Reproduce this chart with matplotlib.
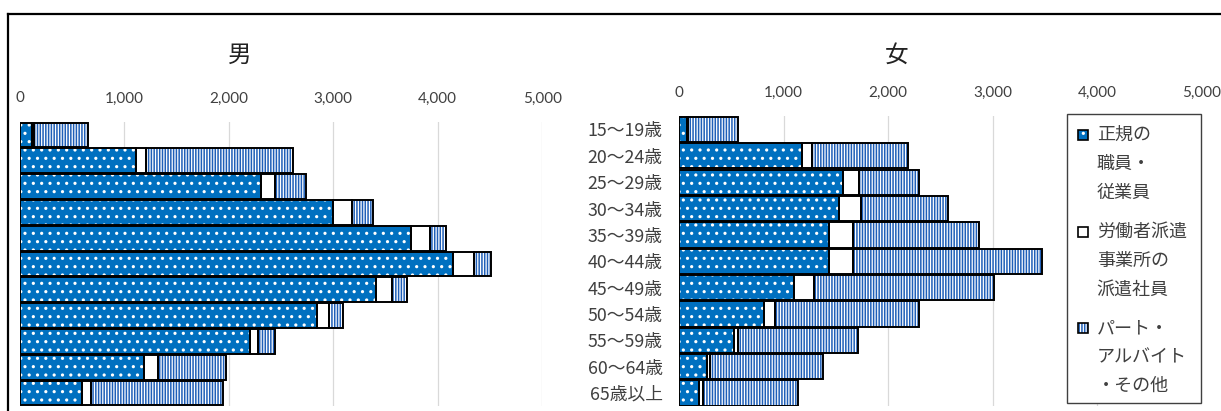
import matplotlib
matplotlib.use("Agg")
import matplotlib.pyplot as plt
from matplotlib.patches import Rectangle
from matplotlib.lines import Line2D
import numpy as np

plt.rcParams['font.family'] = ['Noto Sans CJK JP', 'DejaVu Sans']
plt.rcParams['hatch.linewidth'] = 1.1

# ---- data (thousand persons) ----
age_groups = ["15～19歳", "20～24歳", "25～29歳", "30～34歳", "35～39歳", "40～44歳",
              "45～49歳", "50～54歳", "55～59歳", "60～64歳", "65歳以上"]
series_names = ["正規の\n職員・\n従業員", "労働者派遣\n事業所の\n派遣社員", "パート・\nアルバイト\n・その他"]

male_regular = [120, 1114, 2307, 3002, 3742, 4144, 3407, 2843, 2202, 1190, 600]
male_dispatch = [15, 93, 137, 182, 185, 198, 153, 115, 82, 134, 86]
male_part = [517, 1413, 294, 198, 151, 166, 147, 140, 157, 651, 1263]

female_regular = [70, 1171, 1564, 1531, 1436, 1436, 1101, 808, 521, 262, 192]
female_dispatch = [15, 102, 156, 210, 223, 223, 189, 108, 38, 32, 32]
female_part = [474, 919, 574, 828, 1212, 1813, 1725, 1378, 1155, 1084, 916]

x_ticks = [0, 1000, 2000, 3000, 4000, 5000]

# ---- styles ----
BLUE = '#0070C0'
STRIPE = '#1F5FB8'
TEXT = '#404040'
styles = [
    dict(face=BLUE, hatchcolor='white', hatch='..'),
    dict(face='white', hatchcolor='white', hatch=None),
    dict(face='white', hatchcolor=STRIPE, hatch='||||||'),
]

W, H = 1221, 411
fig = plt.figure(figsize=(W / 100, H / 100), dpi=100)


def fx(px):
    return px / W


def fy(py):
    return 1 - py / H


def draw_panel(ax, series):
    y = np.arange(len(age_groups))
    left = np.zeros(len(age_groups))
    for vals, st in zip(series, styles):
        vals = np.asarray(vals, dtype=float)
        ax.barh(y, vals, left=left, height=0.96, color=st['face'],
                edgecolor=st['hatchcolor'], hatch=st['hatch'], linewidth=0, zorder=2)
        ax.barh(y, vals, left=left, height=0.96, fill=False,
                edgecolor='black', linewidth=1.4, zorder=3)
        left += vals
    ax.set_xlim(0, 5000)
    ax.set_ylim(len(age_groups) - 0.5, -0.5)
    ax.xaxis.tick_top()
    ax.set_xticks(x_ticks)
    ax.set_xticklabels([f"{v:,}" for v in x_ticks], family=['Lato', 'DejaVu Sans'],
                       fontsize=11, color=TEXT)
    ax.grid(axis='x', color='#D9D9D9', linewidth=0.9, zorder=0)
    ax.set_axisbelow(True)
    for s in ax.spines.values():
        s.set_visible(False)
    ax.tick_params(axis='both', length=0)
    ax.tick_params(axis='x', pad=12)


# male panel
ax_m = fig.add_axes([fx(19.6), fy(405.9), fx(542.3 - 19.6), (405.9 - 122.1) / H])
draw_panel(ax_m, [male_regular, male_dispatch, male_part])
ax_m.set_yticks([])

# female panel
ax_f = fig.add_axes([fx(679.3), fy(406.2), fx(1201.7 - 679.3), (406.2 - 116.3) / H])
draw_panel(ax_f, [female_regular, female_dispatch, female_part])
ax_f.set_yticks(np.arange(len(age_groups)))
ax_f.set_yticklabels(age_groups, fontsize=12.8, color=TEXT)
ax_f.tick_params(axis='y', pad=12)

# panel titles
fig.text(fx(240), fy(55), "男", fontsize=17, ha='center', va='center', color='#222222')
fig.text(fx(897), fy(55), "女", fontsize=17, ha='center', va='center', color='#222222')

# outer chart frame (left and top edges)
fig.add_artist(Line2D([fx(8.3), fx(8.3)], [0, fy(14)], transform=fig.transFigure,
                      color='black', linewidth=1.6))
fig.add_artist(Line2D([fx(8.3), 1.0], [fy(14), fy(14)], transform=fig.transFigure,
                      color='black', linewidth=1.6))

# legend
fig.add_artist(Rectangle((fx(1066.7), fy(403.3)), fx(1201 - 1066.7), (403.3 - 114.3) / H,
                         transform=fig.transFigure, facecolor='white',
                         edgecolor='#404040', linewidth=1.0, zorder=5))
entry_tops = [135, 231.7, 328]
for name, st, ytop in zip(series_names, styles, entry_tops):
    box = (fx(1078), fy(ytop + 5)), fx(10), 10 / H
    fig.add_artist(Rectangle(*box, transform=fig.transFigure, facecolor=st['face'],
                             edgecolor=st['hatchcolor'], hatch=st['hatch'],
                             linewidth=0, zorder=6))
    fig.add_artist(Rectangle(*box, transform=fig.transFigure, fill=False,
                             edgecolor='black', linewidth=1.2, zorder=7))
    for i, line in enumerate(name.split('\n')):
        fig.text(fx(1096.7), fy(ytop + 29 * i), line, fontsize=13, ha='left',
                 va='center', color=TEXT, zorder=8)

fig.savefig("out.png", dpi=100)
